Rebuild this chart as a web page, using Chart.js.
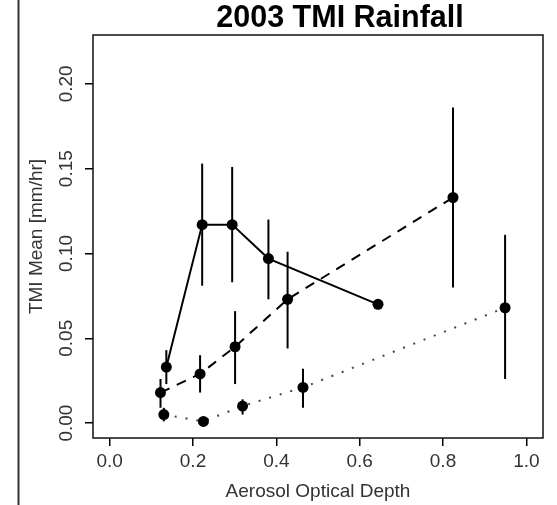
<!DOCTYPE html>
<html>
<head>
<meta charset="utf-8">
<script src="https://cdn.jsdelivr.net/npm/chart.js@4"></script>
<style>
  html, body { margin: 0; padding: 0; background: #fff; }
  canvas { display: block; }
</style>
</head>
<body>
<canvas id="rainChart" width="557" height="505"></canvas>
<script>
// values (x = aerosol optical depth, y = TMI mean mm/hr)
const solidX = [0.136, 0.222, 0.294, 0.381, 0.644];
const solidY = [0.033, 0.117, 0.117, 0.097, 0.070];
const solidLo = [0.023, 0.081, 0.083, 0.073, null];
const solidHi = [0.043, 0.153, 0.151, 0.120, null];

const dashX = [0.122, 0.217, 0.301, 0.427, 0.824];
const dashY = [0.018, 0.029, 0.045, 0.073, 0.133];
const dashLo = [0.009, 0.018, 0.023, 0.044, 0.080];
const dashHi = [0.026, 0.040, 0.066, 0.101, 0.186];

const dotX = [0.130, 0.225, 0.319, 0.464, 0.949];
const dotY = [0.005, 0.001, 0.010, 0.021, 0.068];
const dotLo = [0.001, null, 0.005, 0.009, 0.026];
const dotHi = [0.009, null, 0.014, 0.032, 0.111];

const xTicks = [0, 0.2, 0.4, 0.6, 0.8, 1.0];
const yTicks = [0, 0.05, 0.10, 0.15, 0.20];

const titleText = '2003 TMI Rainfall';
const xTitle = 'Aerosol Optical Depth';
const yTitle = 'TMI Mean [mm/hr]';

Chart.defaults.font.family = '"Liberation Sans", Arial, Helvetica, sans-serif';
Chart.defaults.color = '#333';

const toPoints = (xs, ys) => xs.map((x, i) => ({ x: x, y: ys[i] }));

const series = [
  { xs: solidX, ys: solidY, lo: solidLo, hi: solidHi, dash: [] },
  { xs: dashX, ys: dashY, lo: dashLo, hi: dashHi, dash: [10, 8] },
  { xs: dotX, ys: dotY, lo: dotLo, hi: dotHi, dash: [2, 9] }
];

// error bars, drawn through the chart scales
const errorBars = {
  id: 'errorBars',
  beforeDatasetsDraw(chart) {
    const { ctx, scales: { x, y } } = chart;
    ctx.save();
    ctx.strokeStyle = '#000';
    ctx.lineWidth = 2;
    series.forEach(s => {
      s.xs.forEach((xv, i) => {
        if (s.lo[i] == null || s.hi[i] == null) return;
        const px = x.getPixelForValue(xv);
        ctx.beginPath();
        ctx.moveTo(px, y.getPixelForValue(s.lo[i]));
        ctx.lineTo(px, y.getPixelForValue(s.hi[i]));
        ctx.stroke();
      });
    });
    ctx.restore();
  }
};

// box, title and the page rule on the left
const frame = {
  id: 'frame',
  afterDraw(chart) {
    const { ctx, chartArea: a } = chart;
    ctx.save();
    ctx.strokeStyle = '#111';
    ctx.lineWidth = 1.5;
    ctx.strokeRect(a.left, a.top, a.right - a.left, a.bottom - a.top);

    ctx.strokeStyle = '#333';
    ctx.lineWidth = 2;
    ctx.beginPath();
    ctx.moveTo(18.5, 0);
    ctx.lineTo(18.5, 505);
    ctx.stroke();

    ctx.fillStyle = '#000';
    ctx.font = 'bold 30.5px "Liberation Sans", Arial, sans-serif';
    ctx.textAlign = 'center';
    ctx.textBaseline = 'middle';
    ctx.fillText(titleText, 340, 19);
    ctx.restore();
  }
};

const ctx = document.getElementById('rainChart').getContext('2d');
new Chart(ctx, {
  type: 'scatter',
  data: {
    datasets: series.map(s => ({
      data: toPoints(s.xs, s.ys),
      showLine: true,
      borderColor: s.dash.length && s.dash[0] < 5 ? '#444' : '#000',
      borderWidth: 2,
      borderDash: s.dash,
      backgroundColor: '#000',
      pointBackgroundColor: '#000',
      pointBorderColor: '#000',
      pointBorderWidth: 0,
      pointRadius: 5.5,
      pointHoverRadius: 5.5,
      tension: 0
    }))
  },
  options: {
    responsive: false,
    animation: false,
    devicePixelRatio: 1,
    layout: { padding: { left: 25, top: 35, right: 14, bottom: 0 } },
    plugins: {
      legend: { display: false },
      tooltip: { enabled: false }
    },
    scales: {
      x: {
        type: 'linear',
        min: -0.04,
        max: 1.04,
        afterBuildTicks: scale => { scale.ticks = xTicks.map(v => ({ value: v })); },
        afterFit: scale => { scale.height = 67; },
        border: { display: false },
        grid: { drawOnChartArea: false, drawTicks: true, tickLength: 8, color: '#000', lineWidth: 1.5 },
        ticks: {
          padding: 4,
          maxRotation: 0,
          font: { size: 19 },
          color: '#333',
          callback: v => v.toFixed(1)
        },
        title: { display: true, text: xTitle, font: { size: 19 }, color: '#333', padding: { top: 0, bottom: 2 } }
      },
      y: {
        type: 'linear',
        min: -0.0088,
        max: 0.2288,
        afterBuildTicks: scale => { scale.ticks = yTicks.map(v => ({ value: v })); },
        afterFit: scale => { scale.width = 68; },
        border: { display: false },
        grid: { drawOnChartArea: false, drawTicks: true, tickLength: 8, color: '#000', lineWidth: 1.5 },
        ticks: {
          padding: 0,
          minRotation: 90,
          maxRotation: 90,
          crossAlign: 'center',
          font: { size: 19 },
          color: '#333',
          callback: v => v.toFixed(2)
        },
        title: { display: true, text: yTitle, font: { size: 19 }, color: '#333', padding: { top: 0, bottom: 0 } }
      }
    }
  },
  plugins: [errorBars, frame]
});
</script>
</body>
</html>
